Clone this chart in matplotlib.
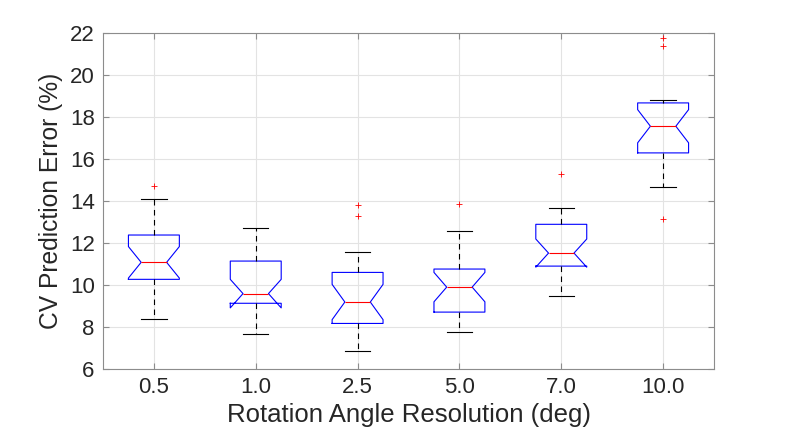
import matplotlib.pyplot as plt

plt.rcParams["font.family"] = ["Liberation Sans", "DejaVu Sans"]

# Box statistics (CV prediction error, %)
labels = ["0.5", "1.0", "2.5", "5.0", "7.0", "10.0"]
q1 = [10.27, 9.13, 8.17, 8.71, 10.90, 16.29]
med = [11.08, 9.59, 9.19, 9.90, 11.52, 17.56]
q3 = [12.38, 11.14, 10.60, 10.76, 12.89, 18.67]
whislo = [8.40, 7.67, 6.84, 7.76, 9.48, 14.67]
whishi = [14.08, 12.70, 11.57, 12.57, 13.67, 18.83]
notch_half = [0.75, 0.68, 0.84, 0.70, 0.67, 0.79]
fliers = [[14.71], [], [13.81, 13.30], [13.86], [15.27], [21.75, 21.37, 13.14]]

stats = []
for i in range(len(labels)):
    stats.append({
        "label": labels[i],
        "q1": q1[i], "med": med[i], "q3": q3[i],
        "whislo": whislo[i], "whishi": whishi[i],
        "cilo": med[i] - notch_half[i], "cihi": med[i] + notch_half[i],
        "fliers": fliers[i],
    })

fig = plt.figure(figsize=(7.89, 4.38), dpi=100)
ax = fig.add_axes([0.1305, 0.1575, 0.7745, 0.7672])

ax.bxp(
    stats,
    shownotches=True,
    widths=0.5,
    boxprops=dict(color="blue", linewidth=0.8),
    medianprops=dict(color="red", linewidth=0.8),
    whiskerprops=dict(color="black", linewidth=0.8, linestyle=(0, (5, 4))),
    capprops=dict(color="black", linewidth=0.8),
    flierprops=dict(marker="+", markeredgecolor="red", markersize=4, markeredgewidth=0.6, linestyle="none"),
)

ax.set_ylim(6, 22)
ax.set_yticks(range(6, 23, 2))
ax.set_xlim(0.5, 6.5)
ax.grid(True, color="#e3e3e3", linewidth=0.8)
ax.set_axisbelow(True)

for s in ax.spines.values():
    s.set_color("#8c8c8c")
    s.set_linewidth(0.8)
ax.tick_params(direction="in", top=True, right=True, color="#8c8c8c", length=4,
               labelsize=16, labelcolor="#262626", pad=6)

ax.set_xlabel("Rotation Angle Resolution (deg)", fontsize=18.5, color="#262626", labelpad=3)
ax.set_ylabel("CV Prediction Error (%)", fontsize=17.7, color="#262626", labelpad=5)

fig.savefig("out.png", dpi=100)
